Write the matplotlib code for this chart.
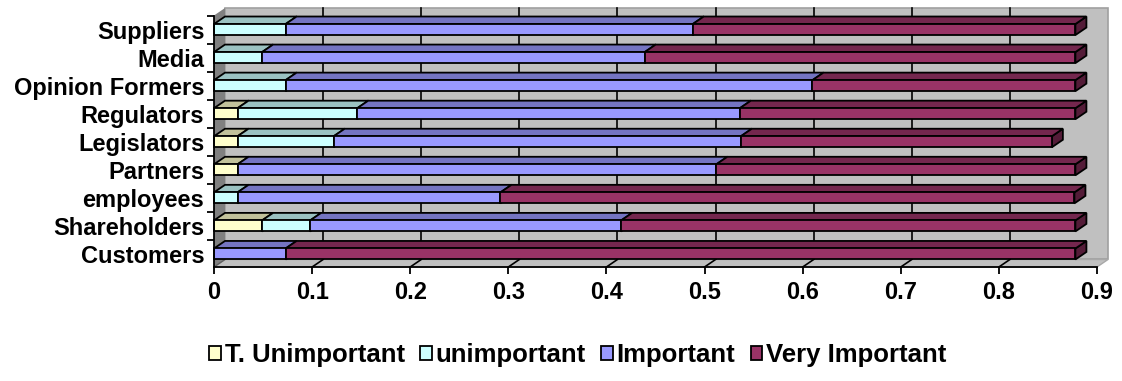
import numpy as np
import matplotlib.pyplot as plt
from matplotlib.patches import Polygon, Patch
from matplotlib.colors import to_rgb

categories = ['Customers', 'Shareholders', 'employees', 'Partners', 'Legislators',
              'Regulators', 'Opinion Formers', 'Media', 'Suppliers']
series_names = ['T. Unimportant', 'unimportant', 'Important', 'Very Important']
t_unimportant = [0.0, 0.049, 0.0, 0.024, 0.024, 0.024, 0.0, 0.0, 0.0]
unimportant = [0.0, 0.049, 0.024, 0.0, 0.098, 0.122, 0.073, 0.049, 0.073]
important = [0.073, 0.317, 0.268, 0.488, 0.415, 0.390, 0.537, 0.390, 0.415]
very_important = [0.805, 0.463, 0.585, 0.366, 0.317, 0.342, 0.268, 0.439, 0.390]
xticks = [0, 0.1, 0.2, 0.3, 0.4, 0.5, 0.6, 0.7, 0.8, 0.9]
xticklabels = ['0', '0.1', '0.2', '0.3', '0.4', '0.5', '0.6', '0.7', '0.8', '0.9']

colors = ['#FFFFCC', '#CCFFFF', '#9999FF', '#993366']
series = [t_unimportant, unimportant, important, very_important]

plt.rcParams['font.family'] = ['Liberation Sans', 'DejaVu Sans']
plt.rcParams['font.weight'] = 'bold'
FS = 17

W, H = 1122, 381
fig = plt.figure(figsize=(W / 100, H / 100), dpi=100)
# pixel layout of the front plane
x0p, x1p = 214, 1097
row_px = 28
row0_px = 254
floor_px = 267
top_px = 8
ax = fig.add_axes([x0p / W, (H - floor_px) / H, (x1p - x0p) / W, (floor_px - top_px) / H])
xmax = xticks[-1]
sx = xmax / (x1p - x0p)
sy = 1.0 / row_px
dx = 11 * sx
dy = 7.5 * sy
bh = 11 * sy
ylo = -(floor_px - row0_px) * sy
ytop = len(categories) - 0.5
ax.set_xlim(0, xmax)
ax.set_ylim(ylo, ytop + dy)

def darker(c, f):
    r, g, b = to_rgb(c)
    return (r * f, g * f, b * f)

# walls
ax.add_patch(Polygon([(dx, ylo + dy), (xmax + dx, ylo + dy), (xmax + dx, ytop + dy), (dx, ytop + dy)],
                     fc='#C0C0C0', ec='#A0A0A0', lw=1.2, zorder=1, clip_on=False))
ax.add_patch(Polygon([(0, ylo), (xmax, ylo), (xmax + dx, ylo + dy), (dx, ylo + dy)],
                     fc='#C0C0C0', ec='#A8A8A8', lw=1, zorder=1, clip_on=False))
ax.add_patch(Polygon([(0, ylo), (0, ytop), (dx, ytop + dy), (dx, ylo + dy)],
                     fc='#808080', ec='none', zorder=1.5, clip_on=False))
for t in xticks[1:-1]:
    ax.plot([t + dx, t + dx], [ylo + dy, ytop + dy], color='k', lw=1.2, zorder=2, clip_on=False)
for t in xticks[1:-1]:
    ax.plot([t, t + dx], [ylo, ylo + dy], color='k', lw=1.2, zorder=2, clip_on=False)
ax.plot([0, dx], [ylo, ylo + dy], color='#606060', lw=1, zorder=2)

y = np.arange(len(categories))
left = np.zeros(len(categories))
for k, (vals, name, col) in enumerate(zip(series, series_names, colors)):
    vals = np.array(vals)
    bars = ax.barh(y, vals, left=left, height=bh, color=col, edgecolor='k', lw=1.3,
                   zorder=10 + 3 * k + 2, clip_on=False)
    for b in bars:
        xa, ya, w, h = b.get_x(), b.get_y(), b.get_width(), b.get_height()
        if w <= 0:
            b.set_visible(False)
            continue
        ax.add_patch(Polygon([(xa, ya + h), (xa + w, ya + h), (xa + w + dx, ya + h + dy), (xa + dx, ya + h + dy)],
                             fc=darker(col, 0.76), ec='k', lw=1.3, zorder=10 + 3 * k + 1, clip_on=False))
        ax.add_patch(Polygon([(xa + w, ya), (xa + w + dx, ya + dy), (xa + w + dx, ya + h + dy), (xa + w, ya + h)],
                             fc=darker(col, 0.55), ec='k', lw=1.3, zorder=10 + 3 * k, clip_on=False))
    left += vals

# front left edge
ax.plot([0, 0], [ylo, ytop], color='k', lw=1.3, zorder=30, clip_on=False)

for s in ['left', 'top', 'right']:
    ax.spines[s].set_visible(False)
ax.spines['bottom'].set_linewidth(1.3)
ax.spines['bottom'].set_zorder(30)
ax.set_facecolor('none')

ax.set_xticks(xticks, xticklabels, fontsize=FS, fontweight='bold')
ax.tick_params(axis='x', length=5, width=1.3, pad=5)
ax.set_yticks(y, categories, fontsize=FS, fontweight='bold')
ax.set_yticks(np.arange(0.5, len(categories)), minor=True)
ax.tick_params(axis='y', which='major', length=0, pad=7)
ax.tick_params(axis='y', which='minor', length=5, width=1.3)

handles = [Patch(facecolor=c, edgecolor='k', lw=1.3) for c in colors]
fig.legend(handles, series_names, loc='center', bbox_to_anchor=(578 / W, 1 - 355 / H),
           ncol=4, frameon=False, fontsize=18.5, handlelength=0.45, handleheight=0.45,
           handletextpad=0.15, columnspacing=0.6, borderaxespad=0)

fig.savefig('out.png', dpi=100)
